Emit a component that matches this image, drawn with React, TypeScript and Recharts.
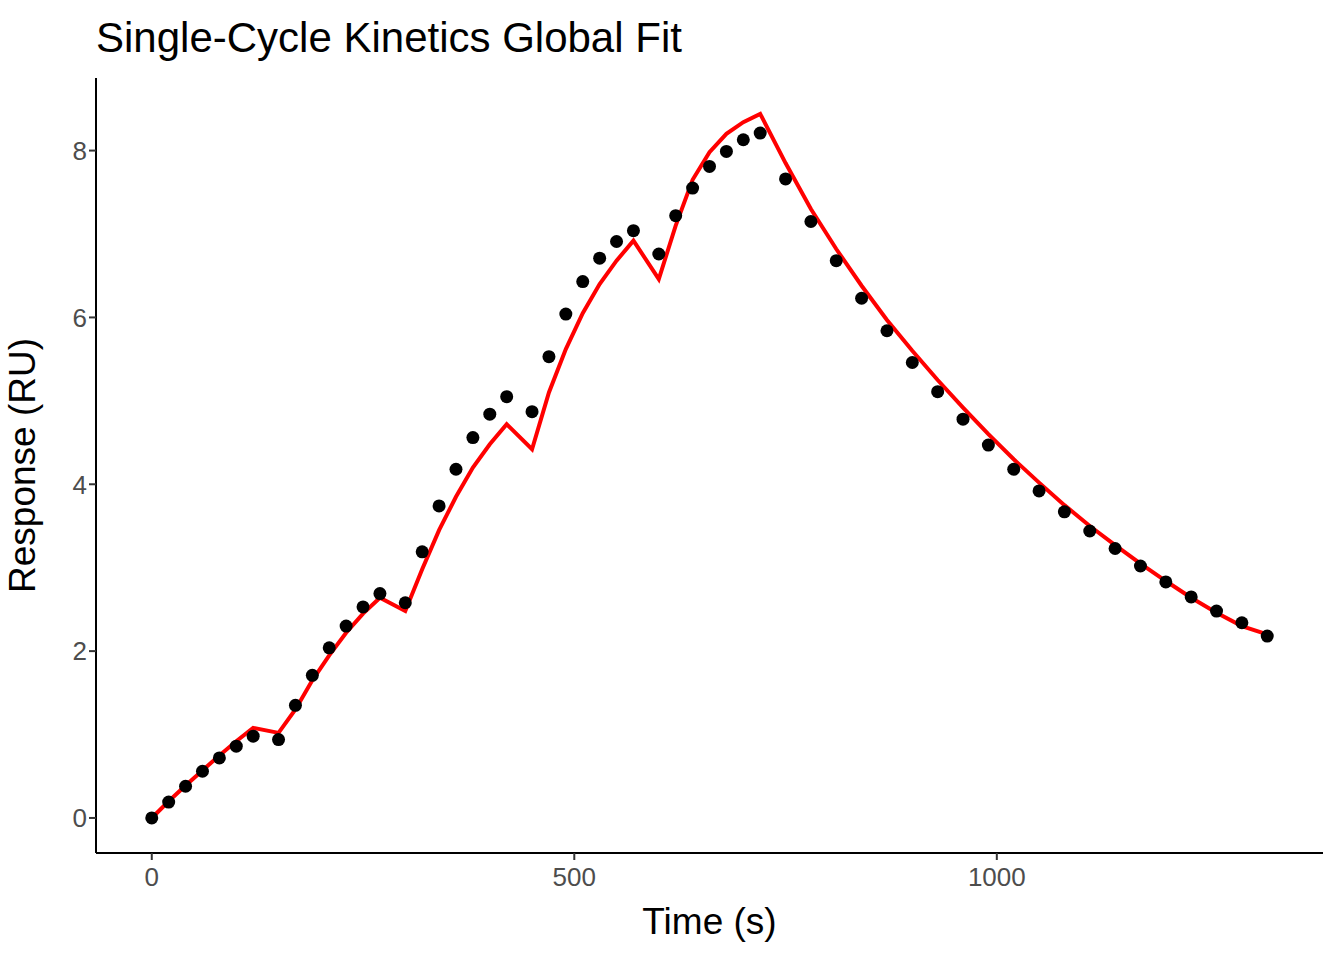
import React from 'react';
import { ComposedChart, Line, Scatter, XAxis, YAxis, Label } from 'recharts';

const times = [0, 20, 40, 60, 80, 100, 120, 150, 170, 190, 210, 230, 250, 270, 300, 320, 340, 360, 380, 400, 420,
  450, 470, 490, 510, 530, 550, 570, 600, 620, 640, 660, 680, 700, 720,
  750, 780, 810, 840, 870, 900, 930, 960, 990, 1020, 1050, 1080, 1110, 1140, 1170, 1200, 1230, 1260, 1290, 1320];

const observed = [0, 0.19, 0.38, 0.56, 0.72, 0.86, 0.98, 0.94, 1.35, 1.71, 2.04, 2.3, 2.53, 2.69, 2.58, 3.19, 3.74, 4.18, 4.56, 4.84, 5.05,
  4.87, 5.53, 6.04, 6.43, 6.71, 6.91, 7.04, 6.76, 7.22, 7.55, 7.81, 7.99, 8.13, 8.21,
  7.66, 7.15, 6.68, 6.23, 5.84, 5.46, 5.11, 4.78, 4.47, 4.18, 3.92, 3.67, 3.44, 3.23, 3.02, 2.83, 2.65, 2.48, 2.34, 2.18];

const fitted = [0, 0.2, 0.39, 0.57, 0.75, 0.92, 1.08, 1.02, 1.3, 1.65, 1.95, 2.22, 2.45, 2.64, 2.48, 2.98, 3.45, 3.85, 4.2, 4.48, 4.72,
  4.42, 5.1, 5.62, 6.05, 6.4, 6.68, 6.92, 6.46, 7.1, 7.65, 7.98, 8.2, 8.34, 8.44,
  7.85, 7.3, 6.82, 6.38, 5.97, 5.6, 5.25, 4.92, 4.6, 4.3, 4.02, 3.75, 3.5, 3.27, 3.05, 2.84, 2.64, 2.46, 2.3, 2.2];

const xTicks = [0, 500, 1000];
const yTicks = [0, 2, 4, 6, 8];

const data = times.map((t, i) => ({ time: t, resp: observed[i], fit: fitted[i] }));

const font = 'Liberation Sans, Arial, sans-serif';

export default function App() {
  return (
    <div style={{ position: 'absolute', left: 0, top: 0, width: 1344, height: 960, background: '#fff', fontFamily: font }}>
      <div style={{ position: 'absolute', left: 96, top: 13, fontSize: 42, lineHeight: '50px', color: '#000' }}>
        Single-Cycle Kinetics Global Fit
      </div>
      <ComposedChart width={1344} height={960} data={data} margin={{ top: 78, right: 21, bottom: 0, left: 0 }}>
        <XAxis
          type="number"
          dataKey="time"
          domain={[-66, 1386]}
          ticks={xTicks}
          height={107}
          axisLine={{ stroke: '#000', strokeWidth: 2 }}
          tickLine={{ stroke: '#333', strokeWidth: 2 }}
          tickSize={7}
          tick={{ fill: '#4d4d4d', fontSize: 26, fontFamily: font, dy: 6 }}
        >
          <Label value="Time (s)" position="insideBottom" offset={26} style={{ fill: '#000', fontSize: 37, fontFamily: font }} />
        </XAxis>
        <YAxis
          type="number"
          domain={[-0.42, 8.87]}
          ticks={yTicks}
          width={96}
          axisLine={{ stroke: '#000', strokeWidth: 2 }}
          tickLine={{ stroke: '#333', strokeWidth: 2 }}
          tickSize={7}
          tick={{ fill: '#4d4d4d', fontSize: 26, fontFamily: font }}
        >
          <Label value="Response (RU)" angle={-90} position="insideLeft" offset={22} style={{ fill: '#000', fontSize: 37, fontFamily: font, textAnchor: 'middle' }} />
        </YAxis>
        <Scatter dataKey="resp" fill="#000" shape={(p: any) => <circle cx={p.cx} cy={p.cy} r={6.5} fill="#000" />} isAnimationActive={false} />
        <Line type="linear" dataKey="fit" stroke="#ff0000" strokeWidth={4} dot={false} activeDot={false} isAnimationActive={false} />
      </ComposedChart>
    </div>
  );
}
